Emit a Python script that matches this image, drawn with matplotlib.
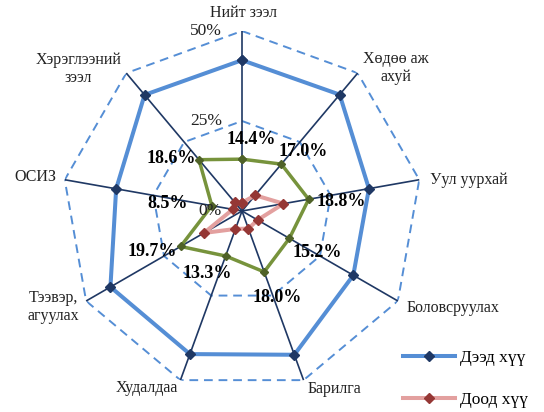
import numpy as np
import matplotlib
matplotlib.use("Agg")
import matplotlib.pyplot as plt

plt.rcParams['font.family'] = ['Liberation Serif', 'DejaVu Serif']

# ---- data ----
categories = ["Нийт зээл", "Хөдөө аж\nахуй", "Уул уурхай", "Боловсруулах", "Барилга",
              "Худалдаа", "Тээвэр,\nагуулах", "ОСИЗ", "Хэрэглээний\nзээл"]
upper_rate = [41.9, 42.2, 35.8, 35.7, 42.5, 42.3, 42.2, 35.5, 42.1]
lower_rate = [2.3, 5.7, 11.7, 5.0, 5.2, 5.3, 12.2, 2.6, 3.1]
spread = [14.4, 17.0, 18.8, 15.2, 18.0, 13.3, 19.7, 8.5, 18.6]
spread_labels = ["14.4%", "17.0%", "18.8%", "15.2%", "18.0%", "13.3%", "19.7%", "8.5%", "18.6%"]
radial_ticks = [0, 25, 50]
radial_labels = ["0%", "25%", "50%"]
series_names = ["Дээд хүү", "Доод хүү"]

# ---- styles ----
navy = "#1F3864"
grid_blue = "#558ED5"
blue_line = "#558ED5"
pink_line = "#E3A09F"
pink_marker = "#953735"
green_line = "#77933C"
green_marker = "#4F6228"

n = len(categories)
theta = np.arange(n) * 2 * np.pi / n
theta_c = np.append(theta, theta[0])

def closed(v):
    return np.append(v, v[0])

fig = plt.figure(figsize=(5.44, 4.12), dpi=100)
ax = fig.add_axes([62 / 544, 21 / 412, 360 / 544, 360 / 412], projection='polar')
ax.set_theta_zero_location('N')
ax.set_theta_direction(-1)
ax.set_ylim(0, 50)
ax.grid(False)
ax.set_xticks([])
ax.set_yticks([])
ax.spines['polar'].set_visible(False)
ax.patch.set_alpha(0)

# dashed polygon gridlines
for r in radial_ticks[1:]:
    ax.plot(theta_c, [r] * (n + 1), color=grid_blue, lw=1.4, ls=(0, (4.5, 3)), zorder=1)
# spokes
for t in theta:
    ax.plot([t, t], [0, radial_ticks[-1]], color=navy, lw=1.2, zorder=2)

# radial labels
for r, lab in zip(radial_ticks, radial_labels):
    ax.annotate(lab, xy=(0, r), xytext=(-20, 0), textcoords='offset pixels',
                ha='right', va='center', fontsize=12.5, color='#222222', zorder=6)

# series
l1, = ax.plot(theta_c, closed(upper_rate), color=blue_line, lw=2.9, marker='D', ms=5,
              mfc=navy, mec=navy, zorder=3, label=series_names[0])
l2, = ax.plot(theta_c, closed(lower_rate), color=pink_line, lw=2.9, marker='D', ms=5,
              mfc=pink_marker, mec=pink_marker, zorder=4, label=series_names[1])
ax.plot(theta_c, closed(spread), color=green_line, lw=2.5, marker='D', ms=4.4,
        mfc=green_marker, mec=green_marker, zorder=5)

# data labels for spread
lab_offsets = [(9, 20), (22, 13), (33, -2), (28, -14), (13, -26), (-18, -18), (-28, -5), (-44, 2), (-28, 1)]
for t, v, lab, off in zip(theta, spread, spread_labels, lab_offsets):
    ax.annotate(lab, xy=(t, v), xytext=off, textcoords='offset pixels', ha='center', va='center',
                fontsize=13, fontweight='bold', color='black', zorder=7)

# category labels
cat_layout = [((1, 18), 'center'), ((38, 5), 'center'), ((11, 0), 'left'), ((9, -7), 'left'),
              ((4, -9), 'left'), ((-2, -8), 'right'), ((-33, -6), 'center'), ((-8, 3), 'right'),
              ((-48, 4), 'center')]
for t, lab, (off, ha) in zip(theta, categories, cat_layout):
    ax.annotate(lab, xy=(t, radial_ticks[-1]), xytext=off, textcoords='offset pixels',
                ha=ha, va='center', fontsize=11.5, color='#222222', linespacing=1.2,
                multialignment='center')

fig.legend(handles=[l1, l2], loc='center left', bbox_to_anchor=(403 / 544, (412 - 379) / 412),
           frameon=False, fontsize=12.5, handlelength=3.0, handletextpad=0.3,
           labelspacing=1.5, borderpad=0, borderaxespad=0)

fig.savefig("out.png", dpi=100)
